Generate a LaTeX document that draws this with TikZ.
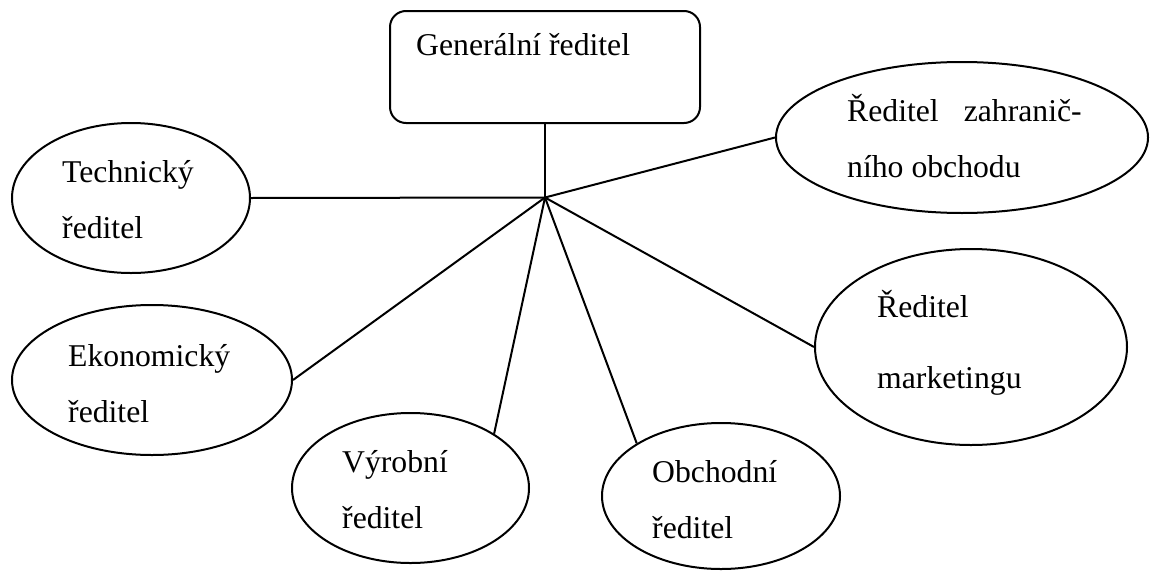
\documentclass[tikz,border=0pt]{standalone}
\usepackage{fontspec}
\setmainfont{Liberation Serif}
\usetikzlibrary{shapes.geometric}

\tikzset{
	unit/.style={draw, ellipse, line width=2pt, inner sep=0pt},
	boss/.style={draw, rounded corners=16pt, line width=2pt, inner sep=0pt},
	nametext/.style={anchor=base west, align=left, inner sep=0pt, font=\fontsize{31.7}{55.5}\selectfont},
	link/.style={line width=2pt}
}

\begin{document}
\begin{tikzpicture}[x=1pt,y=-1pt]
	\useasboundingbox (0,0) rectangle (1150,570);
	% Draw nodes
	\node[boss, minimum width=310pt, minimum height=112pt] (gen) at (545,67) {};
	\coordinate (hub) at (545,197.5);
	\node[unit, minimum width=238pt, minimum height=150pt] (tech) at (131,198) {};
	\node[unit, minimum width=280pt, minimum height=150pt] (eco) at (152,380) {};
	\node[unit, minimum width=237pt, minimum height=150pt] (vyr) at (410.5,488) {};
	\node[unit, minimum width=238pt, minimum height=146pt] (obch) at (721,496) {};
	\node[unit, minimum width=312pt, minimum height=196pt] (mark) at (971,347) {};
	\node[unit, minimum width=372pt, minimum height=151pt] (zahr) at (962,137.5) {};
	% Draw texts (base = baseline of the last line)
	\node[nametext] (gentext) at (416,55) {Generální ředitel};
	\node[nametext] (techtext) at (62,238) {Technický\\ředitel};
	\node[nametext] (ecotext) at (68,422) {Ekonomický\\ředitel};
	\node[nametext] (vyrtext) at (342,528) {Výrobní\\ředitel};
	\node[nametext] (obchtext) at (652,538) {Obchodní\\ředitel};
	\node[nametext, font=\fontsize{31.7}{71}\selectfont] (marktext) at (877,388) {Ředitel\\marketingu};
	\node[nametext] (zahrtext) at (847,177) {Ředitel\hspace{25pt}zahranič-\\ního obchodu};
	% Draw links
	\draw[link] (gen.south) -- (hub);
	\draw[link] (hub) -- (tech.east);
	\draw[link] (hub) -- (eco.east);
	\draw[link] (hub) -- (vyr.33);
	\draw[link] (hub) -- (obch.148);
	\draw[link] (hub) -- (mark.west);
	\draw[link] (hub) -- (zahr.west);
\end{tikzpicture}
\end{document}
